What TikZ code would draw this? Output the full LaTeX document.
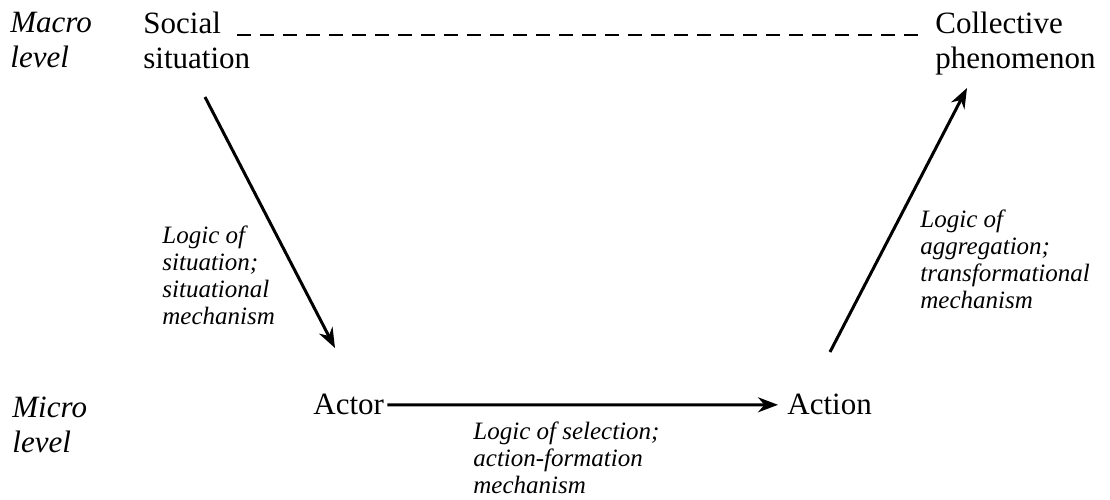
\documentclass[tikz,border=0pt]{standalone}
\usepackage{fontspec}
\setmainfont{Liberation Serif}
\usetikzlibrary{calc,arrows.meta}
\tikzset{
  level/.style={anchor=north west, inner sep=0pt, align=left, font=\fontsize{15.5}{17.5}\selectfont\itshape},
  term/.style={anchor=north west, inner sep=0pt, align=left, font=\fontsize{15.5}{17.5}\selectfont},
  mech/.style={anchor=north west, inner sep=0pt, align=left, font=\fontsize{12.5}{13.6}\selectfont\itshape},
  link/.style={line width=1.5pt, -{Stealth[length=10pt,width=7.5pt]}}
}

\begin{document}
\begin{tikzpicture}[x=0.5pt, y=-0.5pt]
\useasboundingbox (0,0) rectangle (1110,499);
% levels
\node[level] (macro) at (10,12) {Macro\\level};
\node[level] (micro) at (12,397) {Micro\\level};
% macro and micro terms
\node[term] (social) at (143,12) {Social\\situation};
\node[term] (collective) at (935,12) {Collective\\phenomenon};
\node[term] (actor) at (313,394) {Actor};
\node[term] (action) at (787,394) {Action};
% connectors
\draw[line width=1.3pt, dash pattern=on 7pt off 4.5pt] ($(social.north west)+(94,23)$) -- ($(collective.north west)+(-10,23)$);
\draw[link] ($(social.north west)+(62,85)$) -- ($(actor.north west)+(22,-46)$);
\draw[link, shorten <=1.5pt, shorten >=4.5pt] (actor.east) -- (action.west);
\draw[link] ($(action.north west)+(43,-42)$) -- ($(collective.north west)+(32,76)$);
% mechanisms
\node[mech] (situation) at (162,225) {Logic of\\situation;\\situational\\mechanism};
\node[mech] (selection) at (473,421) {Logic of selection;\\action-formation\\mechanism};
\node[mech] (aggregation) at (920,209) {Logic of\\aggregation;\\transformational\\mechanism};
\end{tikzpicture}
\end{document}
